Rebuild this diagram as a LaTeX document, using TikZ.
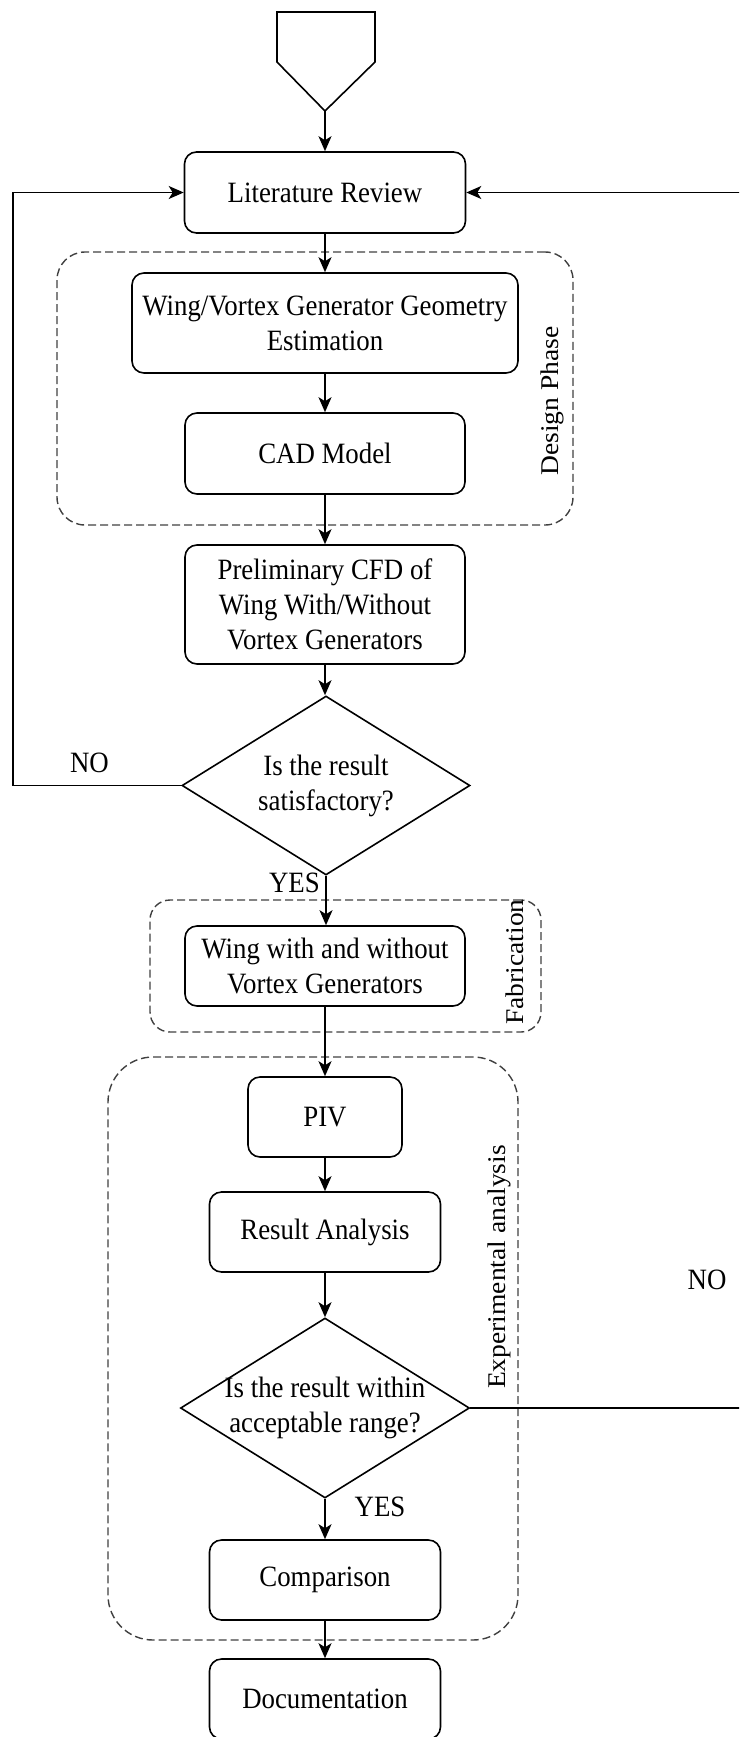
\documentclass[tikz,border=0pt]{standalone}
\usepackage{fontspec}
\setmainfont{Liberation Serif}[FakeStretch=0.91]
\newfontfamily\sidefont{Liberation Serif}[FakeStretch=1.08]
\usetikzlibrary{shapes.geometric,arrows.meta}
\begin{document}
\begin{tikzpicture}[x=1pt,y=-1pt,
  every node/.style={font=\fontsize{29.5}{35}\selectfont},
  proc/.style={draw, rounded corners=12pt, line width=1.6pt, align=center, inner sep=0pt},
  decision/.style={draw, diamond, line width=1.6pt, inner sep=0pt},
  qtext/.style={align=center, inner sep=0pt},
  groupbox/.style={draw=black!75, line width=1.4pt, dash pattern=on 8pt off 4pt, inner sep=0pt},
  sidelabel/.style={rotate=90, inner sep=0pt, font=\sidefont\fontsize{25.5}{30}\selectfont},
  flow/.style={line width=1.6pt, -{Stealth[length=15pt,width=13pt,inset=4pt]}},
  plain/.style={line width=1.6pt},
  edgelabel/.style={inner sep=0pt}
]
\useasboundingbox (0,0) rectangle (739,1737);
\clip (0,0) rectangle (739,1737);

% phase frames
\node[groupbox, rounded corners=28pt, minimum width=516pt, minimum height=273pt] (design) at (315,388.5) {};
\node[groupbox, rounded corners=20pt, minimum width=391pt, minimum height=132pt] (fab) at (345.5,966) {};
\node[groupbox, rounded corners=45pt, minimum width=410pt, minimum height=583pt] (exp) at (313,1348.5) {};

\node[sidelabel] (designlbl) at (552,401) {Design Phase};
\node[sidelabel] (fablbl) at (515,962) {Fabrication};
\node[sidelabel] (explbl) at (499,1267) {Experimental analysis};

% start connector
\draw[plain] (277,12) -- (375,12) -- (375,62) -- (325,111) -- (277,62) -- cycle;
\coordinate (start) at (325,111);

% process steps
\node[proc, minimum width=281pt, minimum height=81pt] (lit) at (325,192.5) {Literature Review};
\node[proc, minimum width=386pt, minimum height=100pt] (geom) at (325,323) {Wing/Vortex Generator Geometry\\Estimation};
\node[proc, minimum width=280pt, minimum height=81pt] (cad) at (325,453.5) {CAD Model};
\node[proc, minimum width=280pt, minimum height=119pt] (cfd) at (325,604.5) {Preliminary CFD of\\Wing With/Without\\Vortex Generators};
\node[decision, minimum width=288pt, minimum height=179pt] (d1) at (326,785.5) {};
\node[qtext] (d1t) at (d1) {Is the result\\satisfactory?};
\node[proc, minimum width=280pt, minimum height=80pt] (wing) at (325,966) {Wing with and without\\Vortex Generators};
\node[proc, minimum width=154pt, minimum height=80pt] (piv) at (325,1117) {PIV};
\node[proc, minimum width=231pt, minimum height=80pt] (res) at (325,1232) {Result Analysis};
\node[decision, minimum width=289pt, minimum height=180pt] (d2) at (325,1408) {};
\node[qtext] (d2t) at (d2) {Is the result within\\acceptable range?};
\node[proc, minimum width=231pt, minimum height=80pt] (cmp) at (325,1580) {Comparison};
\node[proc, minimum width=231pt, minimum height=80pt] (doc) at (325,1699) {Documentation};

% main flow
\draw[flow] (start) -- (lit.north);
\draw[flow] (lit) -- (geom);
\draw[flow] (geom) -- (cad);
\draw[flow] (cad) -- (cfd);
\draw[flow] (cfd.south) -- (cfd.south |- d1.north);
\draw[flow] (d1.south) -- (d1.south |- wing.north);
\draw[flow] (wing.south) -- (wing.south |- piv.north);
\draw[flow] (piv) -- (res);
\draw[flow] (res.south) -- (d2.north);
\draw[flow] (d2.south) -- (cmp.north);
\draw[flow] (cmp) -- (doc);

% feedback loops
\coordinate (lbot) at (12.7,785.5);
\coordinate (ltop) at (12.7,192.5);
\draw[flow] (d1.west) -- (lbot) -- (ltop) -- (lit.west);
\coordinate (rbot) at (746,1408);
\coordinate (rtop) at (746,192.5);
\draw[flow] (d2.east) -- (rbot) -- (rtop) -- (lit.east);

% branch labels
\node[edgelabel] (no1) at (89.5,763) {NO};
\node[edgelabel, anchor=east] (yes1) at (320,883) {YES};
\node[edgelabel] (no2) at (707,1280) {NO};
\node[edgelabel] (yes2) at (380,1507) {YES};
\end{tikzpicture}
\end{document}
